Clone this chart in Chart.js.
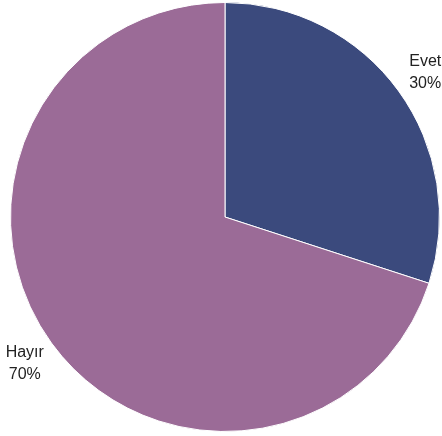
<!DOCTYPE html>
<html>
<head>
<meta charset="utf-8">
<script src="https://cdn.jsdelivr.net/npm/chart.js@4"></script>
<style>
  html, body { margin: 0; padding: 0; background: #fff; }
  #wrap { width: 442px; height: 436px; }
</style>
</head>
<body>
<div id="wrap"><canvas id="chart"></canvas></div>
<script>
const labels = ["Evet", "Hayır"];
const values = [30, 70];
const colors = ["#3b4a7d", "#9b6b97"];

// Draw "name\npercent" outside each slice, along its middle angle
const outsideLabels = {
  id: "outsideLabels",
  afterDatasetsDraw(chart) {
    const { ctx } = chart;
    const meta = chart.getDatasetMeta(0);
    const total = values.reduce((a, b) => a + b, 0);
    ctx.save();
    ctx.font = "16px 'Liberation Sans', Arial, sans-serif";
    ctx.fillStyle = "#222";
    ctx.textAlign = "center";
    ctx.textBaseline = "middle";
    meta.data.forEach((arc, i) => {
      const { x, y, startAngle, endAngle, outerRadius } = arc.getProps(
        ["x", "y", "startAngle", "endAngle", "outerRadius"], true);
      const mid = (startAngle + endAngle) / 2;
      const r = outerRadius + 33;
      const lx = x + Math.cos(mid) * r;
      const ly = y + Math.sin(mid) * r + 1;
      const pct = Math.round((values[i] / total) * 100) + "%";
      ctx.fillText(labels[i], lx, ly - 11);
      ctx.fillText(pct, lx, ly + 11);
    });
    ctx.restore();
  },
};

new Chart(document.getElementById("chart"), {
  type: "pie",
  data: {
    labels,
    datasets: [
      {
        data: values,
        backgroundColor: colors,
        borderColor: "#ffffff",
        borderWidth: 1,
      },
    ],
  },
  options: {
    responsive: true,
    maintainAspectRatio: false,
    animation: false,
    layout: { padding: { left: 10, right: 2, top: 2, bottom: 4 } },
    plugins: {
      legend: { display: false },
      tooltip: { enabled: false },
    },
  },
  plugins: [outsideLabels],
});
</script>
</body>
</html>
